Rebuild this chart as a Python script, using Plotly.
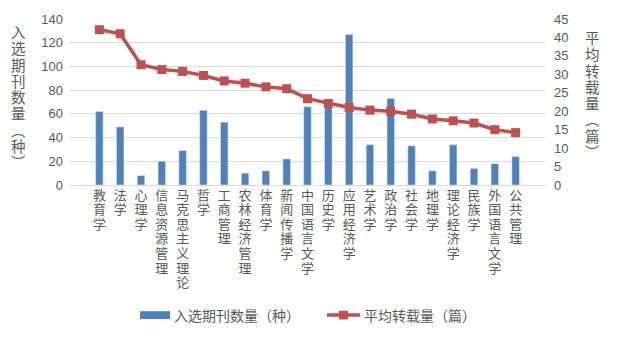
import plotly.graph_objects as go

categories = ["教育学", "法学", "心理学", "信息资源管理", "马克思主义理论", "哲学", "工商管理",
              "农林经济管理", "体育学", "新闻传播学", "中国语言文学", "历史学", "应用经济学",
              "艺术学", "政治学", "社会学", "地理学", "理论经济学", "民族学", "外国语言文学", "公共管理"]
journal_counts = [62, 49, 8, 20, 29, 63, 53, 10, 12, 22, 66, 69, 127, 34, 73, 33, 12, 34, 14, 18, 24]
avg_reprints = [42.1, 41.0, 32.6, 31.3, 30.8, 29.7, 28.2, 27.6, 26.6, 26.1, 23.4, 22.1, 21.0,
                20.3, 20.0, 19.2, 17.9, 17.4, 16.8, 15.0, 14.2]
left_ticks = [0, 20, 40, 60, 80, 100, 120, 140]
right_ticks = [0, 5, 10, 15, 20, 25, 30, 35, 40, 45]
bar_name = "入选期刊数量（种）"
line_name = "平均转载量（篇）"
left_title = "入选期刊数量︵种︶"
right_title = "平均转载量︵篇︶"

BAR_COLOR = "#4F81BD"
LINE_COLOR = "#C0504D"
TXT = "#595959"
CJK = "Noto Sans CJK SC, Liberation Sans, sans-serif"
# Latin font first: compact line boxes, CJK glyphs fall back to Noto Sans CJK
VCJK = "Liberation Sans, Noto Sans CJK SC, sans-serif"
NUM = "Liberation Sans, sans-serif"

W, H = 617, 337
L, R, T, B = 70, 72, 14, 152
PW, PH = W - L - R, H - T - B


def vertical(text, glyph_px):
    # one character per line; line pitch comes from the base font size
    return "<br>".join(f"<span style='font-size:{glyph_px}px'>{ch}</span>" for ch in text)


fig = go.Figure()
fig.add_trace(go.Bar(x=categories, y=journal_counts, name=bar_name, marker_color=BAR_COLOR,
                     yaxis="y", showlegend=False))
fig.add_trace(go.Scatter(x=categories, y=avg_reprints, name=line_name, yaxis="y2",
                         mode="lines+markers", line=dict(color=LINE_COLOR, width=3.5),
                         marker=dict(symbol="square", size=9, color=LINE_COLOR), showlegend=False))


def px2x(p):
    return (p - L) / PW


def py2y(p):
    return 1 - (p - T) / PH


annotations = [
    dict(x=px2x(18), xref="paper", y=py2y(18), yref="paper", xanchor="center", yanchor="top",
         text=vertical(left_title, 14.5), showarrow=False, font=dict(family=VCJK, size=12.5, color=TXT)),
    dict(x=px2x(592), xref="paper", y=py2y(24), yref="paper", xanchor="center", yanchor="top",
         text=vertical(right_title, 14.5), showarrow=False, font=dict(family=VCJK, size=12.5, color=TXT)),
    dict(x=px2x(172), xref="paper", y=py2y(319), yref="paper", xanchor="left", yanchor="middle",
         text=bar_name, showarrow=False, font=dict(family=CJK, size=14, color=TXT)),
    dict(x=px2x(362), xref="paper", y=py2y(319), yref="paper", xanchor="left", yanchor="middle",
         text=line_name, showarrow=False, font=dict(family=CJK, size=14, color=TXT)),
]

shapes = [
    dict(type="rect", xref="paper", yref="paper", x0=px2x(140), x1=px2x(170), y0=py2y(323), y1=py2y(315),
         fillcolor=BAR_COLOR, line=dict(width=0)),
    dict(type="line", xref="paper", yref="paper", x0=px2x(327), x1=px2x(360), y0=py2y(319), y1=py2y(319),
         line=dict(color=LINE_COLOR, width=3.5)),
    dict(type="rect", xref="paper", yref="paper", x0=px2x(339), x1=px2x(348), y0=py2y(323.5), y1=py2y(314.5),
         fillcolor=LINE_COLOR, line=dict(width=0)),
]

fig.update_layout(
    width=W, height=H, margin=dict(l=L, r=R, t=T, b=B, pad=0),
    paper_bgcolor="white", plot_bgcolor="white",
    bargap=0.64,
    xaxis=dict(type="category", tickvals=categories, ticktext=[vertical(c, 13) for c in categories],
               tickangle=0, showgrid=False, zeroline=False, showline=True, linecolor="#D9D9D9",
               ticks="", ticklen=0, tickfont=dict(family=VCJK, size=11.25, color=TXT)),
    yaxis=dict(range=[0, 140], tickvals=left_ticks, showgrid=True, gridcolor="#D9D9D9", gridwidth=1,
               zeroline=False, showline=False, ticks="", ticklabelstandoff=6,
               tickfont=dict(family=NUM, size=13, color=TXT)),
    yaxis2=dict(range=[0, 45], tickvals=right_ticks, overlaying="y", side="right", showgrid=False,
                zeroline=False, showline=False, ticks="", ticklabelstandoff=8,
                tickfont=dict(family=NUM, size=13, color=TXT)),
    annotations=annotations, shapes=shapes, showlegend=False,
)
fig.write_html("out.html")
